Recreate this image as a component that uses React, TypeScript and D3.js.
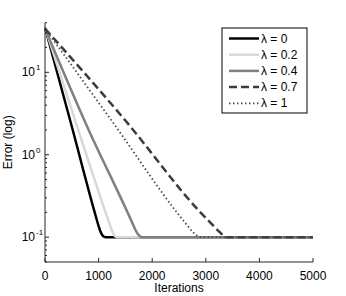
import React from "react";
import * as d3 from "d3";

// iterations vs error
const lambdas = ["λ = 0", "λ = 0.2", "λ = 0.4", "λ = 0.7", "λ = 1"];

const lambda0 = [
  [0, 35], [500, 2.2], [927, 0.2], [995, 0.14], [1040, 0.115], [1080, 0.104], [1130, 0.1], [5000, 0.1],
];
const lambda02 = [
  [0, 35], [600, 2.2], [1130, 0.2], [1213, 0.14], [1260, 0.115], [1300, 0.104], [1350, 0.1], [5000, 0.1],
];
const lambda04 = [
  [0, 34], [800, 2.1], [1540, 0.2], [1648, 0.14], [1710, 0.115], [1760, 0.104], [1810, 0.1], [5000, 0.1],
];
const lambda07 = [
  [0, 34], [1500, 2.6], [2900, 0.2], [3130, 0.14], [3260, 0.115], [3340, 0.104], [3400, 0.1], [5000, 0.1],
];
const lambda1 = [
  [0, 34], [1300, 2.3], [2460, 0.2], [2650, 0.14], [2760, 0.115], [2840, 0.104], [2900, 0.1], [5000, 0.1],
];

const xTicks = [0, 1000, 2000, 3000, 4000, 5000];
const yTicks = [0.1, 1, 10];

const series = [lambda0, lambda02, lambda04, lambda07, lambda1];
const styles = [
  { color: "#000000", width: 2.5, dash: null },
  { color: "#d8dad0", width: 2.5, dash: null },
  { color: "#808080", width: 2.5, dash: null },
  { color: "#3c3c3c", width: 2.5, dash: "8,4" },
  { color: "#4a4a4a", width: 1.8, dash: "1.5,2.5" },
];

const W = 346;
const H = 296;
const font = "'Liberation Sans', Arial, Helvetica, sans-serif";

const App = () => {
  const x = d3.scaleLinear().domain([0, 5000]).range([45, 313]);
  const y = d3.scaleLog().domain([0.05, 40]).range([262, 22.7]);

  const line = d3
    .line<number[]>()
    .x((d) => x(d[0]))
    .y((d) => y(d[1]))
    .curve(d3.curveMonotoneX);

  // minor ticks on the log axis
  const minor = y
    .ticks()
    .filter((v) => !yTicks.some((t) => Math.abs(t - v) < 1e-9));

  const [y0, y1] = y.range();
  const [x0, x1] = x.range();

  const lx = 222;
  const ly = 28;

  return (
    <svg
      width={W}
      height={H}
      style={{ position: "absolute", left: 0, top: 0, background: "#fff" }}
      fontFamily={font}
    >
      <rect width={W} height={H} fill="#fff" />
      <g fill="none" strokeLinejoin="round">
        {series.map((s, i) => (
          <path
            key={i}
            d={line(s) || ""}
            stroke={styles[i].color}
            strokeWidth={styles[i].width}
            strokeDasharray={styles[i].dash || undefined}
          />
        ))}
      </g>

      {/* axes */}
      <g stroke="#262626" strokeWidth={1}>
        <line x1={x0} x2={x0} y1={y1} y2={y0} />
        <line x1={x0} x2={x1} y1={y0} y2={y0} />
        {xTicks.map((t) => (
          <line key={t} x1={x(t)} x2={x(t)} y1={y0} y2={y0 - 4} />
        ))}
        {yTicks.map((t) => (
          <line key={t} x1={x0} x2={x0 + 4} y1={y(t)} y2={y(t)} />
        ))}
        {minor.map((t) => (
          <line key={"m" + t} x1={x0} x2={x0 + 2} y1={y(t)} y2={y(t)} />
        ))}
      </g>

      <g fontSize={12} fill="#000">
        {xTicks.map((t) => (
          <text key={t} x={x(t)} y={280} textAnchor="middle">
            {t}
          </text>
        ))}
        {yTicks.map((t) => (
          <text key={t} x={35} y={y(t) + 4} textAnchor="end">
            10
            <tspan x={36} dy={-6} fontSize={8} textAnchor="start">
              {Math.round(Math.log10(t))}
            </tspan>
          </text>
        ))}
        <text x={(x0 + x1) / 2} y={292} textAnchor="middle">
          Iterations
        </text>
        <text
          transform={`translate(12,${(y0 + y1) / 2}) rotate(-90)`}
          textAnchor="middle"
        >
          Error (log)
        </text>
      </g>

      {/* legend */}
      <g>
        <rect x={lx} y={ly} width={85} height={85} fill="#fff" stroke="#000" strokeWidth={1} />
        {lambdas.map((name, i) => {
          const cy = ly + 10.5 + i * 16.2;
          return (
            <g key={name}>
              <line
                x1={lx + 7}
                x2={lx + 37}
                y1={cy}
                y2={cy}
                stroke={styles[i].color}
                strokeWidth={styles[i].width}
                strokeDasharray={styles[i].dash || undefined}
              />
              <text x={lx + 39} y={cy + 4} fontSize={12}>
                {name}
              </text>
            </g>
          );
        })}
      </g>
    </svg>
  );
};

export default App;
